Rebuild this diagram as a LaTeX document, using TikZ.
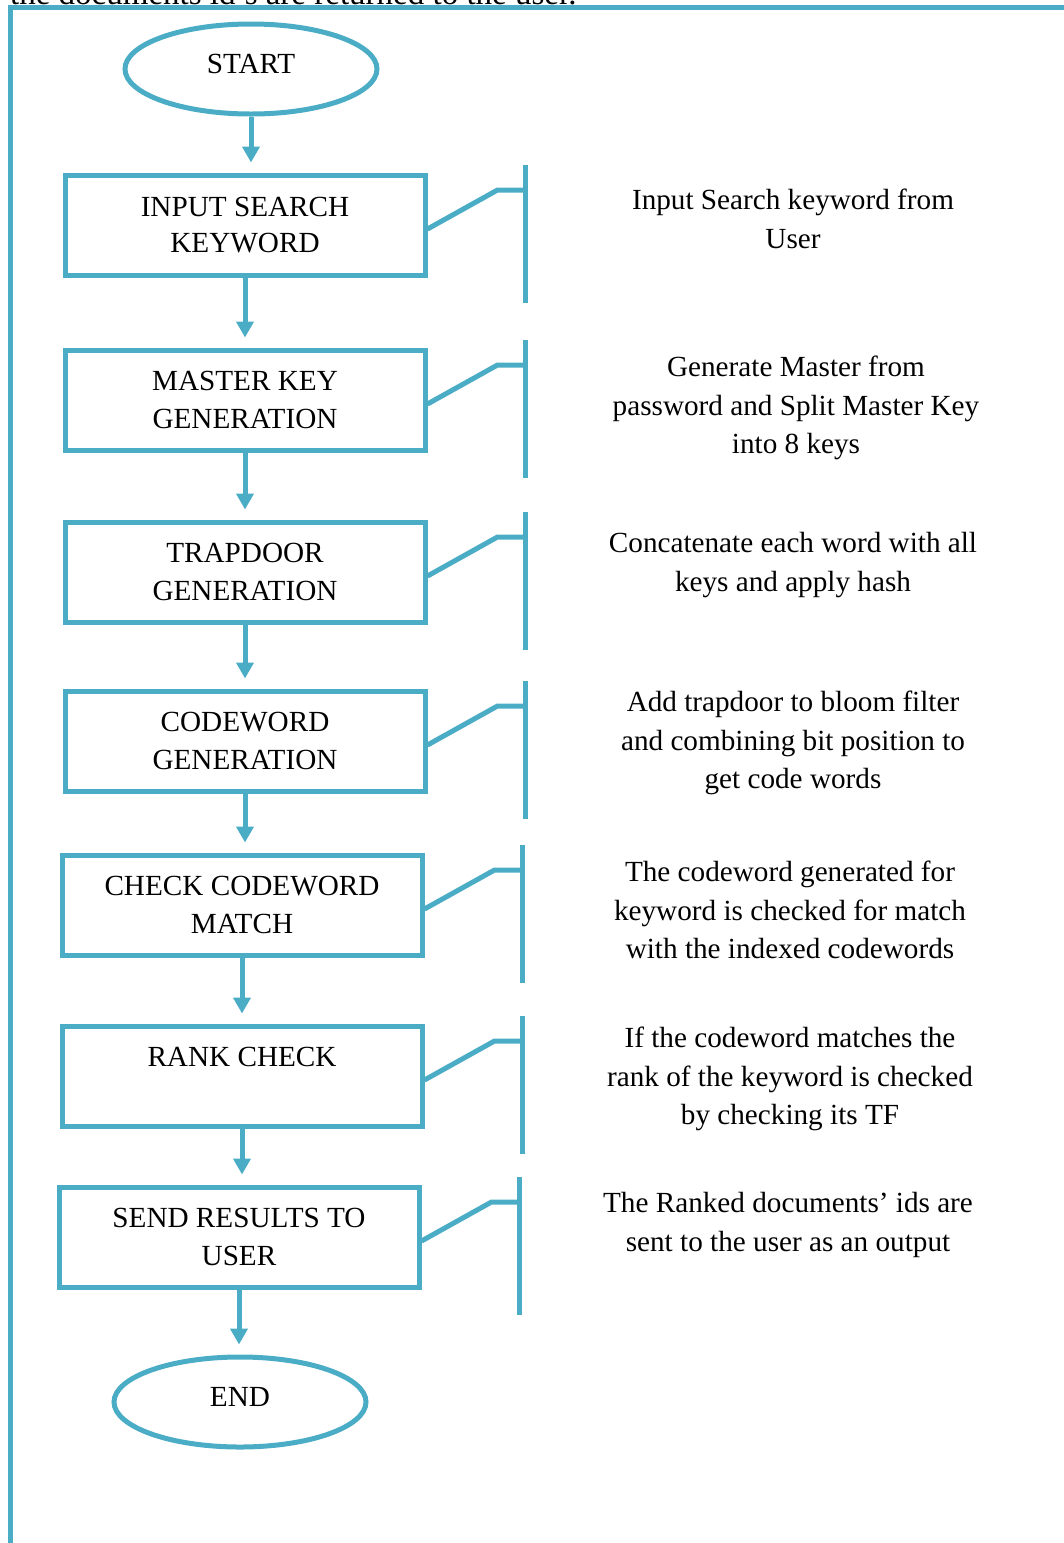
\documentclass[tikz,border=0pt]{standalone}
\usepackage{fontspec}
\setmainfont{Liberation Serif}
\usetikzlibrary{shapes.geometric,arrows.meta}
\definecolor{accent}{HTML}{4BACC6}
\begin{document}
\begin{tikzpicture}[x=1pt,y=-1pt,
  every node/.style={font=\fontsize{29.2}{38.7}\selectfont, text=black},
  stepbox/.style={draw=accent, line width=5pt, minimum width=360pt, minimum height=100pt, inner sep=0pt, align=center},
  term/.style={ellipse, draw=accent, line width=5pt, minimum width=252pt, minimum height=90pt, inner sep=0pt, text depth=10pt},
  flow/.style={draw=accent, line width=5pt, -{Triangle[length=16pt,width=17pt]}, shorten >=10pt},
  note/.style={draw=accent, line width=5pt},
  desc/.style={align=center, inner sep=0pt}]
\useasboundingbox (0,0) rectangle (1064,1543);
\begin{scope}
\clip (0,0) rectangle (1064,1543);
\node[anchor=base west, inner sep=0pt, font=\fontsize{33}{40}\selectfont] (toptext) at (-24,4) {to the documents id’s are returned to the user.};
\draw[note] (10,1560) -- (10,7) -- (1080,7);
\end{scope}

\node[term] (start) at (251,69) {START};
\node[stepbox] (b1) at (245,225) {INPUT SEARCH\\[-3.5pt]KEYWORD};
\node[stepbox] (b2) at (245,400) {MASTER KEY\\GENERATION};
\node[stepbox] (b3) at (245,572) {TRAPDOOR\\GENERATION};
\node[stepbox] (b4) at (245,741) {CODEWORD\\GENERATION};
\node[stepbox] (b5) at (242,905) {CHECK CODEWORD\\MATCH};
\node[stepbox] (b6) at (242,1076) {};
\node (b6t) at (242,1057) {RANK CHECK};
\node[stepbox] (b7) at (239,1237) {SEND RESULTS TO\\USER};
\node[term] (end) at (240,1402) {END};

\draw[flow] (start.south) -- (start.south |- b1.north);
\draw[flow] (b1.south) -- (b1.south |- b2.north);
\draw[flow] (b2.south) -- (b2.south |- b3.north);
\draw[flow] (b3.south) -- (b3.south |- b4.north);
\draw[flow] (b4.south) -- (b4.south |- b5.north);
\draw[flow] (b5.south) -- (b5.south |- b6.north);
\draw[flow] (b6.south) -- (b6.south |- b7.north);
\draw[flow] (b7.south) -- (b7.south |- end.north);

\foreach \i in {1,...,7}{
  \draw[note] ([yshift=-4pt]b\i.east) -- ++(70,-39) -- ++(28,0) coordinate (k\i);
  \draw[note] (k\i) ++(0,-25) -- ++(0,138);
}

\node[desc] (d1) at (793,219) {Input Search keyword from\\User};
\node[desc] (d2) at (796,408) {Generate Master from\\password and Split Master Key\\into 8 keys};
\node[desc] (d3) at (793,565) {Concatenate each word with all\\keys and apply hash};
\node[desc] (d4) at (793,743) {Add trapdoor to bloom filter\\and combining bit position to\\get code words};
\node[desc] (d5) at (790,910) {The codeword generated for\\keyword is checked for match\\with the indexed codewords};
\node[desc] (d6) at (790,1079) {If the codeword matches the\\rank of the keyword is checked\\by checking its TF};
\node[desc] (d7) at (788,1225) {The Ranked documents’ ids are\\sent to the user as an output};
\end{tikzpicture}
\end{document}
